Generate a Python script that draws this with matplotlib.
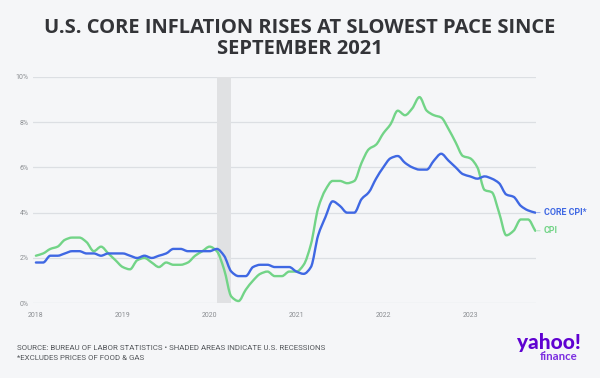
import matplotlib
matplotlib.use("Agg")
import matplotlib.pyplot as plt
from matplotlib.path import Path
from matplotlib.patches import PathPatch
import numpy as np
import pandas as pd

# ---- data (YoY %, monthly, Jan 2018 - Oct 2023) ----
start_month = "2018-01"
cpi = [2.1, 2.2, 2.4, 2.5, 2.8, 2.9, 2.9, 2.7, 2.3, 2.5, 2.2, 1.9,
       1.6, 1.5, 1.9, 2.0, 1.8, 1.6, 1.8, 1.7, 1.7, 1.8, 2.1, 2.3,
       2.5, 2.3, 1.5, 0.3, 0.1, 0.6, 1.0, 1.3, 1.4, 1.2, 1.2, 1.4,
       1.4, 1.7, 2.6, 4.2, 5.0, 5.4, 5.4, 5.3, 5.4, 6.2, 6.8, 7.0,
       7.5, 7.9, 8.5, 8.3, 8.6, 9.1, 8.5, 8.3, 8.2, 7.7, 7.1, 6.5,
       6.4, 6.0, 5.0, 4.9, 4.0, 3.0, 3.2, 3.7, 3.7, 3.2]
core_cpi = [1.8, 1.8, 2.1, 2.1, 2.2, 2.3, 2.3, 2.2, 2.2, 2.1, 2.2, 2.2,
            2.2, 2.1, 2.0, 2.1, 2.0, 2.1, 2.2, 2.4, 2.4, 2.3, 2.3, 2.3,
            2.3, 2.4, 2.1, 1.4, 1.2, 1.2, 1.6, 1.7, 1.7, 1.6, 1.6, 1.6,
            1.4, 1.3, 1.6, 3.0, 3.8, 4.5, 4.3, 4.0, 4.0, 4.6, 4.9, 5.5,
            6.0, 6.4, 6.5, 6.2, 6.0, 5.9, 5.9, 6.3, 6.6, 6.3, 6.0, 5.7,
            5.6, 5.5, 5.6, 5.5, 5.3, 4.8, 4.7, 4.3, 4.1, 4.0]
recession_start = "2020-02"
recession_end = "2020-04"
year_ticks = ["2018", "2019", "2020", "2021", "2022", "2023"]
y_ticks = [0, 2, 4, 6, 8, 10]
y_tick_labels = ["0%", "2%", "4%", "6%", "8%", "10%"]

dates = pd.period_range(start_month, periods=len(cpi), freq="M")
base = pd.Period(start_month, freq="M")
x = np.array([(d - base).n for d in dates], dtype=float)


def midx(s):
    return (pd.Period(s, freq="M") - base).n


def monotone_path(xs, ys):
    """Smooth monotone-cubic curve through the data points (like d3 curveMonotoneX)."""
    xs = np.asarray(xs, float)
    ys = np.asarray(ys, float)
    n = len(xs)
    h = np.diff(xs)
    d = np.diff(ys) / h
    m = np.zeros(n)
    m[0], m[-1] = d[0], d[-1]
    for i in range(1, n - 1):
        if d[i - 1] * d[i] <= 0:
            m[i] = 0.0
        else:
            w1 = 2 * h[i] + h[i - 1]
            w2 = h[i] + 2 * h[i - 1]
            m[i] = (w1 + w2) / (w1 / d[i - 1] + w2 / d[i])
    verts = [(xs[0], ys[0])]
    codes = [Path.MOVETO]
    for i in range(n - 1):
        dx = h[i] / 3.0
        verts += [(xs[i] + dx, ys[i] + m[i] * dx),
                  (xs[i + 1] - dx, ys[i + 1] - m[i + 1] * dx),
                  (xs[i + 1], ys[i + 1])]
        codes += [Path.CURVE4] * 3
    return Path(verts, codes)


BG = "#f5f6f8"
BLUE = "#3f68e3"
GREEN = "#72d487"
GRID = "#dcdfe3"
TICK = "#8a8d91"

fig = plt.figure(figsize=(6.0, 3.78), dpi=100, facecolor=BG)
ax = fig.add_axes([33 / 600, 74.7 / 378, (536 - 33) / 600, (303.3 - 76.7) / 378])
ax.set_facecolor(BG)

ax.axvspan(midx(recession_start), midx(recession_end), color="#e0e1e3", lw=0, zorder=1)

for yt in y_ticks:
    ax.axhline(yt, color=GRID, lw=0.9, zorder=0.5)

for series, col, z in [(cpi, GREEN, 3), (core_cpi, BLUE, 4)]:
    ax.add_patch(PathPatch(monotone_path(x, series), facecolor="none", edgecolor=col,
                           lw=1.7, joinstyle="round", capstyle="round", zorder=z))

ax.set_xlim(-0.4, len(cpi) - 0.9)
ax.set_ylim(0, 10)
for s in ax.spines.values():
    s.set_visible(False)

ax.set_yticks(y_ticks)
ax.set_yticklabels(y_tick_labels)
ax.set_xticks([midx(y + "-01") for y in year_ticks])
ax.set_xticklabels(year_ticks)
ax.tick_params(axis="both", length=0, labelsize=5, labelcolor=TICK)
ax.tick_params(axis="y", pad=3)
ax.tick_params(axis="x", pad=6)
for lab in ax.get_xticklabels() + ax.get_yticklabels():
    lab.set_family("Roboto")

# series end labels
for label, series, col in [("CORE CPI*", core_cpi, BLUE), ("CPI", cpi, GREEN)]:
    ax.annotate("", xy=(x[-1], series[-1]), xytext=(3.5, 0), textcoords="offset points",
                arrowprops=dict(arrowstyle="-", color=col, lw=0.6, shrinkA=0, shrinkB=0,
                                alpha=0.6))
    ax.annotate(label, xy=(x[-1], series[-1]), xytext=(6.2, 0), textcoords="offset points",
                color=col, fontsize=6.4, fontweight="bold", family="Roboto",
                va="center", ha="left", annotation_clip=False)

fig.text(0.5, 0.952, "U.S. CORE INFLATION RISES AT SLOWEST PACE SINCE\nSEPTEMBER 2021",
         ha="center", va="top", fontsize=14.5, fontweight="bold", family="Open Sans",
         color="#333438", linespacing=1.05)

fig.text(17 / 600, 1 - 348 / 378, "SOURCE: BUREAU OF LABOR STATISTICS \u2022 SHADED AREAS INDICATE U.S. RECESSIONS",
         ha="left", va="center", fontsize=5.7, color="#55585c", family="Roboto")
fig.text(17 / 600, 1 - 358 / 378, "*EXCLUDES PRICES OF FOOD & GAS",
         ha="left", va="center", fontsize=5.7, color="#55585c", family="Roboto")

PURPLE = "#5f01d1"
fig.text(581 / 600, 1 - 343 / 378, "yahoo!", ha="right", va="center", fontsize=15,
         fontweight="black", family="Lato", color=PURPLE)
fig.text(578 / 600, 1 - 357 / 378, "finance", ha="right", va="center", fontsize=8.3,
         fontweight="bold", family="Lato", color="#7b2ee0")

fig.savefig("out.png", dpi=100, facecolor=BG)
